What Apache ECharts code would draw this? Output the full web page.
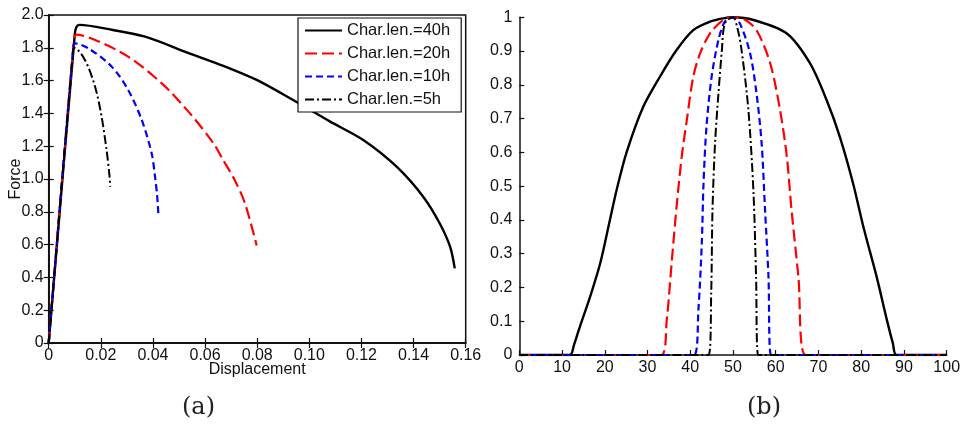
<!DOCTYPE html>
<html>
<head>
<meta charset="utf-8">
<script src="https://cdn.jsdelivr.net/npm/echarts@6/dist/echarts.min.js"></script>
<style>
html,body{margin:0;padding:0;background:#fff;}
#c{width:964px;height:430px;}
</style>
</head>
<body>
<div id="c"></div>
<script>
// ---------- data ----------
var seriesNames = ['Char.len.=40h', 'Char.len.=20h', 'Char.len.=10h', 'Char.len.=5h'];

// (a) Force vs Displacement
var fd40 = [[0,0],[0.0100,1.88],[0.0106,1.925],[0.0118,1.94],[0.0242,1.91],[0.037,1.868],[0.0542,1.765],[0.067,1.69],[0.0798,1.604],[0.0926,1.492],[0.1080,1.35],[0.1207,1.238],[0.1335,1.075],[0.1437,0.892],[0.150,0.73],[0.154,0.587],[0.1558,0.455]];
var fd20 = [[0,0],[0.0097,1.84],[0.0106,1.88],[0.0178,1.848],[0.0305,1.746],[0.0434,1.583],[0.0542,1.40],[0.0632,1.218],[0.0664,1.13],[0.0715,0.99],[0.0753,0.852],[0.0798,0.595]];
var fd10 = [[0,0],[0.0094,1.80],[0.0100,1.827],[0.0152,1.797],[0.0242,1.685],[0.0305,1.543],[0.0357,1.36],[0.0395,1.157],[0.0408,1.014],[0.0416,0.90],[0.0421,0.78]];
var fd5  = [[0,0],[0.0094,1.79],[0.0098,1.80],[0.0139,1.726],[0.0178,1.563],[0.0203,1.38],[0.0222,1.177],[0.0233,1.024],[0.0236,0.953]];

// (b) profiles
var pr40 = [[0,0],[11.8,0],[12.8,0.03],[14.2,0.085],[16.5,0.17],[18.9,0.27],[21.2,0.40],[22.8,0.49],[25.1,0.60],[29.0,0.735],[32.9,0.824],[36.8,0.903],[40.7,0.962],[44.6,0.987],[47.7,0.997],[50,1],[54.8,0.992],[62.6,0.952],[68.0,0.864],[71.9,0.755],[75.0,0.646],[78.1,0.508],[80.5,0.38],[83.6,0.232],[86.0,0.104],[87.4,0.035],[88.3,0],[100,0]];
var pr20 = [[0,0],[33.2,0],[34.5,0.104],[35.7,0.281],[36.8,0.439],[38.0,0.587],[39.2,0.696],[40.7,0.824],[42.3,0.893],[44.6,0.952],[47.7,0.992],[50,1],[52.5,0.995],[55.5,0.962],[58.7,0.864],[61.0,0.726],[62.6,0.587],[63.7,0.429],[65.3,0.232],[67.0,0],[100,0]];
var pr10 = [[0,0],[40.9,0],[41.9,0.133],[42.7,0.331],[43.1,0.508],[43.8,0.676],[45.0,0.824],[46.6,0.933],[48.1,0.987],[50,1],[51.6,0.982],[54.0,0.893],[55.5,0.775],[56.7,0.627],[57.5,0.429],[58.3,0.232],[58.9,0],[100,0]];
var pr5  = [[0,0],[44.3,0],[44.9,0.183],[45.2,0.429],[45.8,0.627],[46.6,0.775],[47.4,0.903],[48.1,0.982],[50,1],[51.0,0.97],[52.0,0.903],[53.6,0.726],[54.8,0.479],[55.4,0.232],[55.9,0],[100,0]];

// tick labels
var aXLabels = ['0','0.02','0.04','0.06','0.08','0.10','0.12','0.14','0.16'];
var aYLabels = ['0','0.2','0.4','0.6','0.8','1.0','1.2','1.4','1.6','1.8','2.0'];
var bXLabels = ['0','10','20','30','40','50','60','70','80','90','100'];
var bYLabels = ['0','0.1','0.2','0.3','0.4','0.5','0.6','0.7','0.8','0.9','1'];

// ---------- chart ----------
var FONT = '"Liberation Sans", Arial, sans-serif';
var AX = '#111111';
function lab(arr, step) { return function (v) { var i = Math.round(v / step); return arr[i] !== undefined ? arr[i] : ''; }; }
function labelStyle(arr, step, extra) {
  var o = { show: true, fontFamily: FONT, fontSize: 16, color: AX, formatter: lab(arr, step), showMinLabel: true, showMaxLabel: true, hideOverlap: false };
  for (var k in extra) o[k] = extra[k];
  return o;
}
var tick = { show: true, inside: true, length: 5, lineStyle: { color: AX, width: 1.2 } };
var axLine = { show: true, lineStyle: { color: AX, width: 1.5 } };

var styles = [
  { color: '#000000', width: 2.4, type: 'solid' },
  { color: '#ff0000', width: 2.2, type: [12, 5] },
  { color: '#0000ff', width: 2.2, type: [7, 4] },
  { color: '#000000', width: 2.0, type: [9, 3, 2, 3] }
];
var aData = [fd40, fd20, fd10, fd5];
var bData = [pr40, pr20, pr10, pr5];

var series = [];
for (var i = 0; i < 4; i++) {
  series.push({
    name: seriesNames[i], type: 'line', xAxisIndex: 0, yAxisIndex: 0,
    data: aData[i], showSymbol: false, symbol: 'none', smooth: 0.3,
    lineStyle: styles[i], itemStyle: { color: styles[i].color }, animation: false, z: 3 + i
  });
}
for (var j = 0; j < 4; j++) {
  series.push({
    name: 'b-' + seriesNames[j], type: 'line', xAxisIndex: 2, yAxisIndex: 2,
    data: bData[j], showSymbol: false, symbol: 'none', smooth: 0.3,
    lineStyle: styles[j], itemStyle: { color: styles[j].color }, animation: false, z: 3 + j
  });
}

var option = {
  animation: false,
  backgroundColor: '#fff',
  grid: [
    { left: 48.7, right: 964 - 465.7, top: 15, bottom: 430 - 343, show: true, borderColor: AX, borderWidth: 1.5, backgroundColor: 'transparent' },
    { left: 519.3, right: 964 - 946.7, top: 17.3, bottom: 430 - 355 }
  ],
  xAxis: [
    { gridIndex: 0, type: 'value', min: 0, max: 0.16, interval: 0.02, position: 'bottom',
      axisLine: axLine, axisTick: tick, splitLine: { show: false },
      axisLabel: labelStyle(aXLabels, 0.02, { margin: 5 }),
      name: 'Displacement', nameLocation: 'middle', nameGap: 19, nameMoveOverlap: false,
      nameTextStyle: { fontFamily: FONT, fontSize: 16, color: AX, verticalAlign: 'top' } },
    { gridIndex: 0, type: 'value', min: 0, max: 0.16, interval: 0.02, position: 'top',
      axisLine: axLine, axisTick: tick, axisLabel: { show: false }, splitLine: { show: false } },
    { gridIndex: 1, type: 'value', min: 0, max: 100, interval: 10,
      axisLine: axLine, axisTick: tick, splitLine: { show: false },
      axisLabel: labelStyle(bXLabels, 10, { margin: 5 }) }
  ],
  yAxis: [
    { gridIndex: 0, type: 'value', min: 0, max: 2, interval: 0.2, position: 'left',
      axisLine: axLine, axisTick: tick, splitLine: { show: false },
      axisLabel: labelStyle(aYLabels, 0.2, { margin: 5 }),
      name: 'Force', nameLocation: 'middle', nameGap: 25, nameRotate: 90, nameMoveOverlap: false,
      nameTextStyle: { fontFamily: FONT, fontSize: 16, color: AX } },
    { gridIndex: 0, type: 'value', min: 0, max: 2, interval: 0.2, position: 'right',
      axisLine: axLine, axisTick: tick, axisLabel: { show: false }, splitLine: { show: false } },
    { gridIndex: 1, type: 'value', min: 0, max: 1, interval: 0.1,
      axisLine: axLine, axisTick: tick, splitLine: { show: false },
      axisLabel: labelStyle(bYLabels, 0.1, { margin: 7 }) }
  ],
  legend: {
    data: seriesNames, orient: 'vertical', left: 298, top: 18,
    itemWidth: 37, itemHeight: 14, itemGap: 6,
    padding: [4, 11, 4, 6],
    borderColor: '#111', borderWidth: 1.2, backgroundColor: '#fff',
    itemStyle: { opacity: 0, borderWidth: 0 },
    textStyle: { fontFamily: FONT, fontSize: 16.5, color: '#111' },
    selectedMode: false, z: 10
  },
  graphic: [
    { type: 'text', left: 182, top: 396, style: { text: '(a)', font: '24px "DejaVu Serif", serif', fill: '#222' } },
    { type: 'text', left: 747, top: 396, style: { text: '(b)', font: '24px "DejaVu Serif", serif', fill: '#222' } }
  ],
  series: series
};
var chart = echarts.init(document.getElementById('c'), null, { renderer: 'canvas' });
chart.setOption(option);
</script>
</body>
</html>
